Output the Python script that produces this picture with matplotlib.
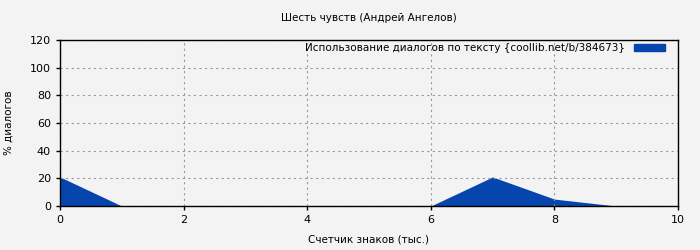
import matplotlib
matplotlib.use('Agg')
import matplotlib.pyplot as plt
from matplotlib.patches import Patch

# data
x_k = [0, 1, 2, 3, 4, 5, 6, 7, 8, 9, 10]
dialog_pct = [21, 0, 0, 0, 0, 0, 0, 21, 5, 0, 0]

title = 'Шесть чувств (Андрей Ангелов)'
legend_label = 'Использование диалогов по тексту {coollib.net/b/384673}'
x_label = 'Счетчик знаков (тыс.)'
y_label = '% диалогов'
x_ticks = [0, 2, 4, 6, 8, 10]
y_ticks = [0, 20, 40, 60, 80, 100, 120]

bg = '#f3f3f3'
blue = '#0645ad'

fig = plt.figure(figsize=(7, 2.5), dpi=100, facecolor=bg)
ax = fig.add_axes([60/700, 44/250, 618/700, 166/250], facecolor=bg)

ax.fill_between(x_k, dialog_pct, 0, color=blue, linewidth=0)

ax.set_xlim(0, 10)
ax.set_ylim(0, 120)
ax.set_xticks(x_ticks)
ax.set_yticks(y_ticks)
ax.tick_params(labelsize=8, length=3, width=1, colors='black')
ax.grid(True, linestyle=(0, (2, 3)), color='#999999', linewidth=0.8)
for s in ax.spines.values():
    s.set_linewidth(1)
    s.set_color('black')

# title centred over the plot area, not the figure
fig.text(369/700, 1 - 18/250, title, ha='center', va='center', fontsize=7.5)
ax.set_xlabel(x_label, fontsize=7.5, labelpad=7)
ax.set_ylabel(y_label, fontsize=7.5, labelpad=12)

leg = ax.legend(handles=[Patch(color=blue, label=legend_label)],
                loc='upper right', bbox_to_anchor=(1 - 8/618, 1 + 2/166),
                frameon=False, fontsize=7.5,
                markerfirst=False, handlelength=3.0, handleheight=0.6,
                borderaxespad=0.1, handletextpad=0.8)

fig.savefig('out.png', dpi=100, facecolor=bg)
